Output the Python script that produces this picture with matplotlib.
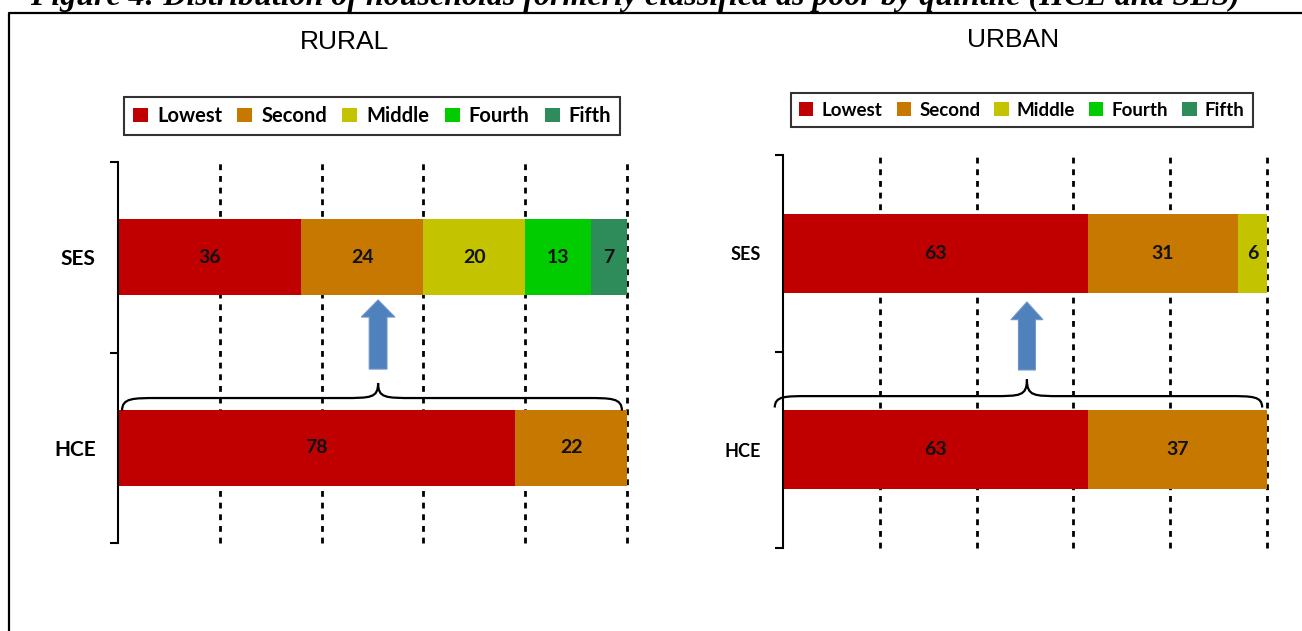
import numpy as np
import matplotlib
matplotlib.use("Agg")
import matplotlib.pyplot as plt
from matplotlib.patches import Patch, FancyArrow, PathPatch
from matplotlib.path import Path
from matplotlib.lines import Line2D

# data
quintiles = ["Lowest", "Second", "Middle", "Fourth", "Fifth"]
colors = ["#C00000", "#C67800", "#C3C300", "#00CC00", "#2E8B5A"]
methods = ["HCE", "SES"]          # bottom to top
rural_ses = [36, 24, 20, 13, 7]
rural_hce = [78, 22, 0, 0, 0]
urban_ses = [63, 31, 6, 0, 0]
urban_hce = [63, 37, 0, 0, 0]
grid_ticks = [20, 40, 60, 80, 100]

plt.rcParams['font.family'] = ['Lato', 'DejaVu Sans']

W, H = 1302, 631
fig = plt.figure(figsize=(W / 100, H / 100), dpi=100)


def fx(px):
    return px / W


def fy(py):
    return 1 - py / H


def brace(ax, x0, x1, xm, ybase, yend, ytip, r):
    verts = [(x0, yend),
             (x0, ybase), (x0 + r * 0.3, ybase), (x0 + r, ybase),
             (xm - r, ybase),
             (xm - r * 0.2, ybase), (xm, ybase), (xm, ytip),
             (xm, ybase), (xm + r * 0.2, ybase), (xm + r, ybase),
             (x1 - r, ybase),
             (x1 - r * 0.3, ybase), (x1, ybase), (x1, yend)]
    codes = [Path.MOVETO,
             Path.CURVE4, Path.CURVE4, Path.CURVE4,
             Path.LINETO,
             Path.CURVE4, Path.CURVE4, Path.CURVE4,
             Path.CURVE4, Path.CURVE4, Path.CURVE4,
             Path.LINETO,
             Path.CURVE4, Path.CURVE4, Path.CURVE4]
    ax.add_patch(PathPatch(Path(verts, codes), fill=False, lw=1.6,
                           ec="black", clip_on=False, zorder=4))


def panel(rect, title, ses, hce, title_xy, leg_xy, leg_fs, lab_fs,
          arrow_x, arrow_y, brace_args):
    ax = fig.add_axes(rect)
    rows = [hce, ses]
    for i, vals in enumerate(rows):
        left = 0
        for q, v in enumerate(vals):
            if v == 0:
                continue
            ax.barh(i, v, left=left, height=0.4, color=colors[q],
                    zorder=2)
            ax.text(left + v / 2, i, str(v), ha="center", va="center",
                    fontsize=14, fontweight="bold", color="#111111",
                    zorder=3)
            left += v
    ax.set_xlim(0, 100)
    ax.set_ylim(-0.5, 1.5)
    for s in ["top", "right", "bottom"]:
        ax.spines[s].set_visible(False)
    ax.spines["left"].set_linewidth(1.5)
    ax.set_xticks(grid_ticks)
    ax.tick_params(axis="x", length=0, labelbottom=False)
    ax.xaxis.grid(True, color="black", lw=2, linestyle=(0, (2.1, 2.1)))
    for gl in ax.get_xgridlines():
        gl.set_clip_on(False)
    ax.set_axisbelow(True)
    ax.set_yticks([-0.5, 0.5, 1.5])
    ax.set_yticklabels([])
    ax.tick_params(axis="y", which="major", length=6, width=1.5)
    ax.set_yticks([0, 1], minor=True)
    ax.set_yticklabels(methods, minor=True, fontsize=lab_fs,
                       fontweight="bold")
    ax.tick_params(axis="y", which="minor", length=0, pad=16)

    fig.text(fx(title_xy[0]), fy(title_xy[1]), title, ha="center",
             va="center", fontsize=19, family="Liberation Sans")

    handles = [Patch(facecolor=c, edgecolor="none") for c in colors]
    leg = fig.legend(handles, quintiles, loc="center",
                     bbox_to_anchor=(fx(leg_xy[0]), fy(leg_xy[1])),
                     ncol=5, frameon=True, fancybox=False,
                     edgecolor="black", handlelength=0.75,
                     handleheight=0.75, handletextpad=0.45,
                     columnspacing=0.75, borderpad=0.45,
                     prop={"weight": "bold", "size": leg_fs})
    leg.get_frame().set_linewidth(1.5)

    ax.add_patch(FancyArrow(arrow_x, arrow_y[0], 0, arrow_y[1] - arrow_y[0],
                            width=3.5, head_width=6.6, head_length=0.09,
                            length_includes_head=True, fc="#4F81BD",
                            ec="#6F95C8", lw=0.8, zorder=4))
    brace(ax, *brace_args)
    return ax


panel([fx(118), fy(543), fx(627) - fx(118), fy(162) - fy(543)],
      "RURAL", rural_ses, rural_hce, (345, 42), (372, 116), 14.5, 15,
      51.1, (0.413, 0.776), (0.8, 99.0, 51.1, 0.261, 0.195, 0.34, 7))

panel([fx(783), fy(548), fx(1267) - fx(783), fy(155) - fy(548)],
      "URBAN", urban_ses, urban_hce, (1013, 40), (1022, 110), 13.5, 13,
      50.4, (0.406, 0.752), (-1.7, 99.0, 50.4, 0.273, 0.215, 0.358, 7))

# figure frame (partly cut off) and caption cut at the top edge
fig.add_artist(Line2D([fx(9), fx(9), 1.0], [0, fy(13), fy(13)],
                      color="black", lw=1.6))
fig.text(fx(30), fy(5), "Figure 4: Distribution of households formerly "
         "classified as poor by quintile (HCE and SES)",
         ha="left", va="baseline", fontsize=23, family="Liberation Serif",
         fontweight="bold", style="italic")

fig.savefig("out.png", dpi=100)
